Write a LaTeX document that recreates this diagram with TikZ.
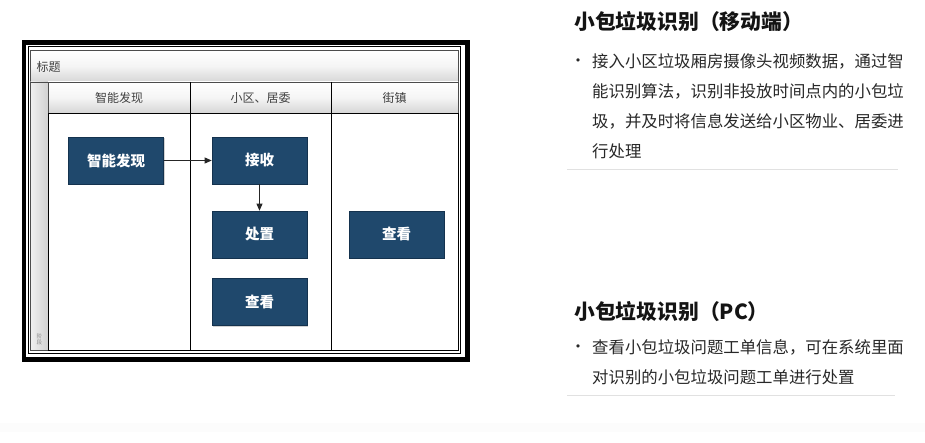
\documentclass[tikz,border=0pt]{standalone}
\usepackage{fontspec}
\setmainfont{Noto Sans CJK SC}
\newfontfamily\cjk{Noto Sans CJK SC}
\newfontfamily\symb{DejaVu Sans}
\usetikzlibrary{arrows.meta,shadows}
\definecolor{boxblue}{RGB}{31,72,108}
\definecolor{boxedge}{RGB}{20,50,78}
\definecolor{hdrgray}{RGB}{214,214,214}
\definecolor{txtdark}{RGB}{40,40,40}
\definecolor{sepgray}{RGB}{225,225,225}
\tikzset{
  procbox/.style={draw=boxedge,line width=0.6pt,fill=boxblue,text=white,
    minimum width=95pt,minimum height=47pt,inner sep=0pt,
    font=\cjk\fontsize{14.5}{14.5}\selectfont\bfseries,
    drop shadow={shadow xshift=1.2pt,shadow yshift=-1.2pt,opacity=0.35}},
  hdrcell/.style={draw=black!70,line width=0.5pt,top color=white,bottom color=hdrgray,middle color=white!96!black},
  hdrtext/.style={font=\cjk\fontsize{12}{12}\selectfont,text=black!75},
  flowarrow/.style={-{Triangle[length=7pt,width=6pt]},line width=0.7pt,black!85},
  ttl/.style={anchor=west,inner sep=0pt,font=\cjk\fontsize{20.8}{20.8}\selectfont\bfseries,text=black!92},
  body/.style={anchor=north west,inner sep=0pt,align=left,font=\cjk\fontsize{16.4}{30}\selectfont,text=txtdark},
  bull/.style={inner sep=0pt,font=\symb\fontsize{11}{11}\selectfont,text=txtdark},
  sepline/.style={draw=sepgray,line width=1pt}
}
\begin{document}
\begin{tikzpicture}[x=1pt,y=-1pt]
\useasboundingbox (0,0) rectangle (925,443);
\fill[white] (0,0) rectangle (925,443);
\fill[black!1.2] (0,423) rectangle (925,432);
% ---- double frame ----
\draw[line width=4.5pt,black] (23.8,42.3) rectangle (467.7,359.7);
\draw[line width=1pt,black] (28.2,46.6) rectangle (460.8,353.2);
% ---- title row ----
\draw[hdrcell] (30.5,50) rectangle (458,82);
\node[hdrtext,anchor=west] (title) at (33,66.5) {标题};
% ---- phase column ----
\shade[left color=black!6,right color=black!18] (30.5,82) rectangle (48,350);
\draw[black!70,line width=0.5pt] (30.5,82) rectangle (48,350);
\node[font=\cjk\fontsize{5.5}{6}\selectfont,text=black!45,align=center,inner sep=0pt] (phase) at (39.3,339) {阶\\段};
% ---- lane headers ----
\draw[hdrcell] (48,82) rectangle (190,113);
\draw[hdrcell] (190,82) rectangle (331,113);
\draw[hdrcell] (331,82) rectangle (458,113);
\node[hdrtext] (h1) at (119,97.5) {智能发现};
\node[hdrtext] (h2) at (260.5,97.5) {小区、居委};
\node[hdrtext] (h3) at (394.5,97.5) {街镇};
% ---- lanes ----
\draw[black,line width=0.6pt] (48,113) rectangle (458,350);
\draw[black,line width=1pt] (190,82) -- (190,350);
\draw[black,line width=1pt] (331,82) -- (331,350);
% ---- process boxes ----
\node[procbox] (find) at (116,160.5) {智能发现};
\node[procbox] (recv) at (259.5,160.5) {接收};
\node[procbox] (dispose) at (259.5,234.5) {处置};
\node[procbox] (view1) at (259.5,302) {查看};
\node[procbox] (view2) at (396.5,234.5) {查看};
\draw[flowarrow] (find.east) -- (recv.west);
\draw[flowarrow] (recv.south) -- (dispose.north);
% ---- right text: mobile ----
\node[ttl] (t1) at (574,22) {小包垃圾识别（移动端）};
\node[bull] (b1) at (578,62) {•};
\node[body] (p1) at (592,53.5) {接入小区垃圾厢房摄像头视频数据，通过智\\能识别算法，识别非投放时间点内的小包垃\\圾，并及时将信息发送给小区物业、居委进\\行处理};
\coordinate (s1a) at (567,170);
\coordinate (s1b) at (898,170);
\draw[sepline] (s1a) -- (s1b);
% ---- right text: PC ----
\node[ttl] (t2) at (574,312) {小包垃圾识别（PC）};
\node[bull] (b2) at (578,348) {•};
\node[body] (p2) at (592,339.5) {查看小包垃圾问题工单信息，可在系统里面\\对识别的小包垃圾问题工单进行处置};
\coordinate (s2a) at (567,395);
\coordinate (s2b) at (895,395);
\draw[sepline] (s2a) -- (s2b);
\end{tikzpicture}
\end{document}
